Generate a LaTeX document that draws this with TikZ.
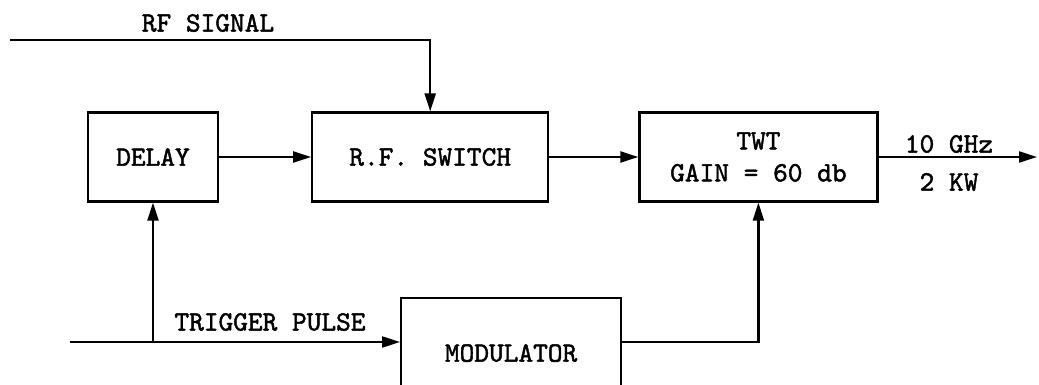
\documentclass[tikz,border=0pt]{standalone}
\usepackage{fontspec}
\newfontfamily\typefont{lmmono10-regular.otf}[FakeBold=1.6]
\usepackage{tikz}
\usetikzlibrary{arrows.meta,positioning}

\begin{document}
\begin{tikzpicture}[
  x=0.5pt, y=-0.5pt,
  node distance=45pt,
  block/.style={draw, line width=1.1pt, minimum height=44.5pt, align=center,
    font=\typefont\fontsize{14}{16}\selectfont, inner sep=2pt},
  tag/.style={font=\typefont\fontsize{14}{16}\selectfont, inner sep=1pt},
  flow/.style={-{Triangle[length=9pt,width=5.5pt]}, line width=1.1pt}
]
\useasboundingbox (0,0) rectangle (1039,385);
\clip (0,0) rectangle (1039,385);
\node[block, minimum width=65pt] (delay) at (153,157) {DELAY};
\node[block, minimum width=118pt, right=46pt of delay] (rfswitch) {R.F. SWITCH};
\node[block, minimum width=119pt, right=44.5pt of rfswitch] (twt) {TWT\\GAIN = 60 db};
\node[block, minimum width=110pt, minimum height=55pt, anchor=north west] (modulator) at (400,297) {MODULATOR};
\coordinate (rfin) at (10,40);
\coordinate (trigin) at (70,342);
\coordinate (tap) at (delay.south |- trigin);
\coordinate (out) at (1037,157);
\node[tag] (rflabel) at (208,23) {RF SIGNAL};
\node[tag] (triglabel) at (270,322) {TRIGGER PULSE};
\node[tag] (freq) at (949,144) {10 GHz};
\node[tag] (power) at (949,182) {2 KW};
\draw[flow] (rfin) -| (rfswitch.north);
\draw[flow] (delay) -- (rfswitch);
\draw[flow] (rfswitch) -- (twt);
\draw[flow] (twt) -- (out);
\draw[flow] (trigin) -- (trigin -| modulator.west);
\draw[flow] (tap) -- (delay.south);
\draw[flow] (modulator.east |- trigin) -| (twt.south);
\end{tikzpicture}
\end{document}
